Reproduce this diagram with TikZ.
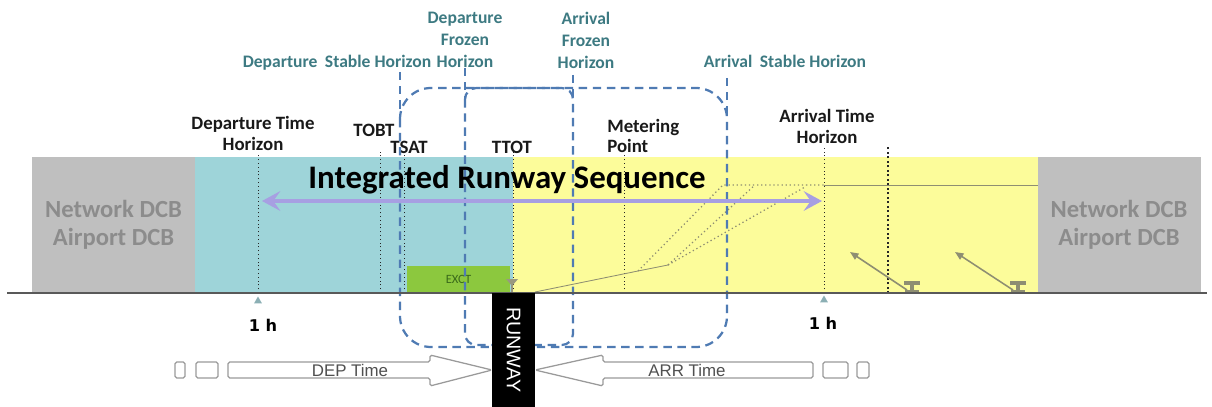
\documentclass[tikz,border=0pt]{standalone}
\usepackage{fontspec}
\setmainfont{Carlito}
\newfontfamily\arialfont{Liberation Sans}
\newfontfamily\dejafont{DejaVu Sans}
\usetikzlibrary{positioning,arrows.meta,calc,shapes.geometric}
\definecolor{dcbfill}{HTML}{BFBFBF}
\definecolor{dcbtext}{HTML}{8C8C8C}
\definecolor{depfill}{HTML}{9ED4D9}
\definecolor{arrfill}{HTML}{FCFC9A}
\definecolor{exctfill}{HTML}{8CC83E}
\definecolor{excttext}{HTML}{3A6A1A}
\definecolor{horcol}{HTML}{3D7A82}
\definecolor{framecol}{HTML}{4F7BB3}
\definecolor{seqcol}{HTML}{A79FE2}
\definecolor{profcol}{HTML}{8E8E72}
\definecolor{outlinecol}{HTML}{9A9A9A}
\definecolor{flowtextcol}{HTML}{505050}

\newcommand{\pxu}{0.025cm}

\begin{document}
\begin{tikzpicture}[
  x=\pxu, y=-\pxu,
  dcb/.style={
    fill=dcbfill, text=dcbtext, inner sep=0pt, align=center,
    minimum width=163*\pxu, minimum height=136*\pxu,
    font=\fontsize{17.5}{20}\selectfont\bfseries,
  },
  tlabel/.style={font=\fontsize{13.4}{14.4}\selectfont\bfseries, align=center, inner sep=0pt, text=black!90},
  hlabel/.style={font=\fontsize{12.5}{15.6}\selectfont\bfseries, align=center, inner sep=0pt, text=horcol},
  hline/.style={font=\fontsize{12.5}{15.6}\selectfont\bfseries, inner sep=0pt, text=horcol},
  tick/.style={dotted, line width=0.7pt, draw=black!85},
  frame/.style={draw=framecol, line width=1.6pt, dash pattern=on 6pt off 4pt},
  seq/.style={draw=seqcol, line width=3.5pt,
    {Stealth[length=13pt,width=14pt,inset=5pt]}-{Stealth[length=13pt,width=14pt,inset=5pt]}},
  prof/.style={draw=profcol, line width=0.6pt},
  profdot/.style={draw=profcol, dotted, line width=0.9pt},
  push/.style={draw=profcol, line width=1.1pt, -{Triangle[length=6pt,width=5pt]}},
  ibeam/.style={draw=profcol, line width=2.6pt},
  flow/.style={draw=outlinecol, fill=white, line width=0.9pt, rounded corners=1.2pt},
  flowtext/.style={font=\arialfont\fontsize{12}{12}\selectfont, text=flowtextcol, inner sep=0pt},
  hmark/.style={regular polygon, regular polygon sides=3, fill=horcol!60, inner sep=0pt, minimum size=9*\pxu},
  hour/.style={font=\dejafont\fontsize{11.5}{13}\selectfont\bfseries, inner sep=0pt}
]
\useasboundingbox (0,0) rectangle (1212,407);

% Planning zones
\fill[depfill] (195,157) rectangle (513,293);
\fill[arrfill] (513,157) rectangle (1038,293);
\node[dcb] (netL) at (113.5,225) {Network DCB\\Airport DCB};
\node[dcb] (netR) at (1119,225) {Network DCB\\Airport DCB};
\node[fill=exctfill, minimum width=103*\pxu, minimum height=27*\pxu, inner sep=0pt,
  font=\fontsize{9}{10}\selectfont, text=excttext] (exct) at (458.5,279.5) {EXCT};

% Time marks on the ground line
\coordinate (dth) at (258,293);
\coordinate (tobt) at (380,293);
\coordinate (tsat) at (404,293);
\coordinate (ttot) at (513,293);
\coordinate (mp) at (624,293);
\coordinate (ath) at (824,293);
\coordinate (ext) at (888,293);
\draw[tick] (dth) -- ++(0,-140);
\draw[tick] (tobt) -- ++(0,-143);
\draw[tick] (tsat) -- ++(0,-141);
\draw[tick] (ttot) -- ++(0,-141);
\draw[tick] (mp) -- ++(0,-138);
\draw[tick] (ath) -- ++(0,-146);
\draw[tick, line width=1.2pt] (ext) -- ++(0,-146);

% Time labels
\node[tlabel] (dthlab) at (253,133.5) {Departure Time\\Horizon};
\node[tlabel, anchor=base] (tobtlab) at (374,137) {TOBT};
\node[tlabel, anchor=base] (tsatlab) at (409,153) {TSAT};
\node[tlabel, anchor=base] (ttotlab) at (512,153) {TTOT};
\node[tlabel, align=left, anchor=west] (mplab) at (607,136) {Metering\\Point};
\node[tlabel] (athlab) at (827,126.5) {Arrival Time\\Horizon};

% Trajectory profiles
\coordinate (p0) at (535,292);
\coordinate (p1) at (638,271);
\coordinate (p2) at (668,265);
\coordinate (q1) at (723,185);
\coordinate (q2) at (755,185);
\coordinate (q3) at (805,187);
\coordinate (q4) at (824,185);
\coordinate (q5) at (1038,185);
\draw[prof] (p0) -- (p1) -- (p2);
\draw[profdot] (p1) -- (q1) -- (q4);
\draw[profdot] (p2) -- (q2);
\draw[profdot] (p2) -- (q3);
\draw[prof] (q4) -- (q5);

% Arriving aircraft
\coordinate (a1) at (907,290);
\coordinate (a1t) at (850,252);
\coordinate (a2) at (1013,290);
\coordinate (a2t) at (955,252);
\draw[push] (a1) -- (a1t);
\draw[push] (a2) -- (a2t);
\draw[ibeam] (904,283) -- (920,283) (912,283) -- (912,292) (905,292) -- (919,292);
\draw[ibeam] (1010,283) -- (1026,283) (1018,283) -- (1018,292) (1011,292) -- (1025,292);
\fill[profcol!90] (506,279) -- (518,279) -- (512,286) -- cycle;
\draw[profcol!90, line width=1.5pt] (512,285) -- (512,292);

% Stable and frozen horizons
\draw[frame, rounded corners=22pt] (400,88) rectangle (727,347);
\draw[frame, rounded corners=8pt] (465,88) rectangle (573,345);
\draw[frame] (400,72) -- (400,119);
\draw[frame] (727,78) -- (727,119);
\draw[frame] (465,68) -- (465,100);
\draw[frame] (573,75) -- (573,100);
\node[hline, anchor=base] (dsh) at (337,68) {Departure\kern0.2em\ Stable Horizon};
\node[hlabel] (dfh) at (465,40) {Departure\\Frozen\\Horizon};
\node[hlabel] (afh) at (586,40) {Arrival\\Frozen\\Horizon};
\node[hline, anchor=base] (ash) at (785,68) {Arrival\kern0.2em\ Stable Horizon};

% Integrated sequence
\node[font=\fontsize{23.4}{26}\selectfont\bfseries, inner sep=0pt, anchor=base] (irs) at (507,188) {Integrated Runway Sequence};
\coordinate (seqL) at (262,201);
\coordinate (seqR) at (822,201);
\draw[seq] (seqL) -- (seqR);

% Ground line and 1 h marks
\coordinate (gL) at (7,293);
\coordinate (gR) at (1207,293);
\draw[line width=1.4pt, draw=black!65] (gL) -- (gR);
\node[hmark] (hmL) at (258,301) {};
\node[hmark] (hmR) at (824,300) {};
\node[hour] (hL) at (263,325) {1 h};
\node[hour] (hR) at (823,323) {1 h};

% Time flow arrows
\draw[flow] (175,362) rectangle (185,378);
\draw[flow] (196,362) rectangle (218,378);
\draw[flow] (228,362) -- (430,362) -- (430,355) -- (492,370) -- (430,386) -- (430,378) -- (228,378) -- cycle;
\draw[flow] (813,362) -- (603,362) -- (603,355) -- (535,370) -- (603,386) -- (603,378) -- (813,378) -- cycle;
\draw[flow] (823,362) rectangle (848,378);
\draw[flow] (857,362) rectangle (869,378);
\node[flowtext] (deptime) at (350,370) {DEP Time};
\node[flowtext] (arrtime) at (687,370) {ARR Time};

% Runway
\node[fill=black, text=white, rotate=-90, inner sep=0pt, minimum width=114*\pxu, minimum height=43*\pxu,
  font=\arialfont\fontsize{14}{14}\selectfont] (rwy) at (513.5,350) {RUNWAY};

\end{tikzpicture}
\end{document}
